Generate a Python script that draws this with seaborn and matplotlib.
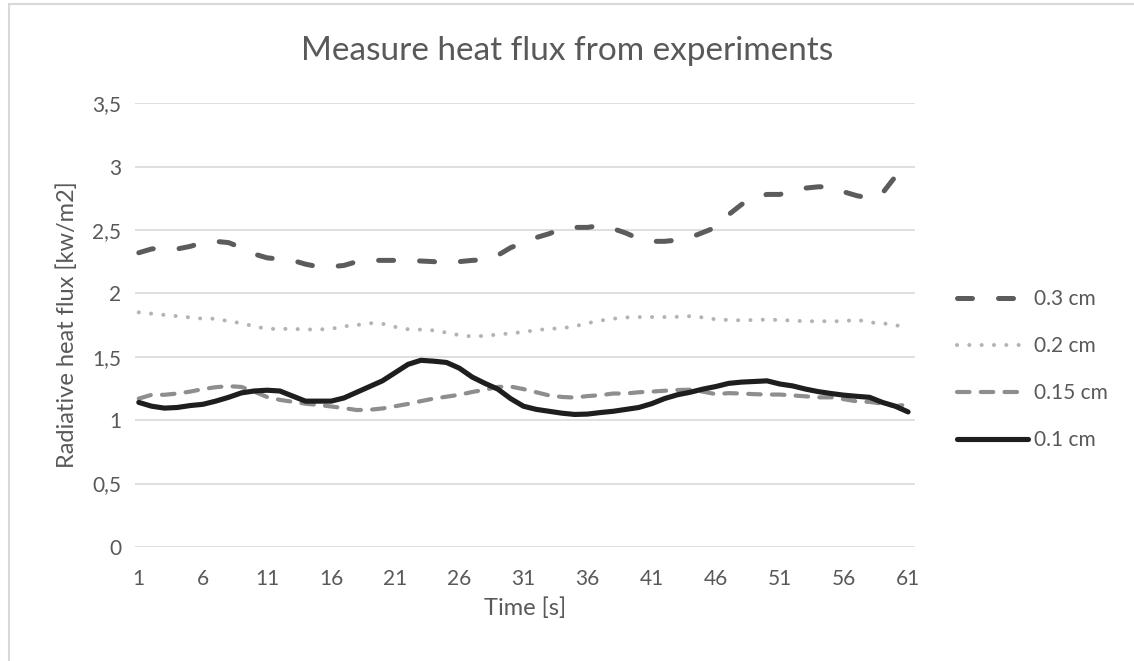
"""
Line chart of measured radiative heat flux for four distances, redrawn with seaborn.
"""

# === Imports ===

import numpy as np
import pandas as pd
import seaborn as sns
from matplotlib import pyplot as plt
from matplotlib.lines import Line2D
from matplotlib.ticker import FuncFormatter, MultipleLocator


# === Data ===

time = list(range(1, 62))

flux_03 = [2.32, 2.35, 2.36, 2.35, 2.37, 2.40, 2.41, 2.40, 2.36, 2.31,
           2.28, 2.27, 2.26, 2.23, 2.21, 2.21, 2.22, 2.25, 2.26, 2.26,
           2.26, 2.26, 2.255, 2.25, 2.24, 2.25, 2.26, 2.265, 2.30, 2.36,
           2.40, 2.44, 2.47, 2.51, 2.52, 2.52, 2.535, 2.51, 2.475, 2.43,
           2.41, 2.41, 2.42, 2.44, 2.48, 2.52, 2.62, 2.70, 2.76, 2.78,
           2.78, 2.81, 2.83, 2.84, 2.84, 2.80, 2.77, 2.75, 2.79, 2.92,
           2.85]

flux_02 = [1.85, 1.84, 1.83, 1.82, 1.81, 1.80, 1.80, 1.78, 1.765, 1.74,
           1.72, 1.72, 1.72, 1.715, 1.715, 1.72, 1.74, 1.75, 1.765, 1.76,
           1.735, 1.717, 1.714, 1.708, 1.69, 1.67, 1.66, 1.665, 1.675, 1.685,
           1.695, 1.71, 1.72, 1.725, 1.74, 1.765, 1.785, 1.80, 1.81, 1.813,
           1.813, 1.813, 1.815, 1.82, 1.81, 1.795, 1.79, 1.787, 1.79, 1.793,
           1.79, 1.785, 1.78, 1.78, 1.78, 1.78, 1.793, 1.77, 1.766, 1.745,
           1.75]

flux_015 = [1.17, 1.20, 1.20, 1.21, 1.225, 1.245, 1.26, 1.268, 1.262, 1.225,
            1.183, 1.16, 1.145, 1.13, 1.12, 1.108, 1.095, 1.08, 1.082, 1.092,
            1.11, 1.128, 1.15, 1.17, 1.185, 1.20, 1.222, 1.24, 1.262, 1.265,
            1.245, 1.22, 1.195, 1.183, 1.178, 1.19, 1.197, 1.21, 1.21, 1.22,
            1.225, 1.232, 1.238, 1.24, 1.225, 1.205, 1.213, 1.21, 1.205, 1.202,
            1.202, 1.195, 1.188, 1.18, 1.18, 1.165, 1.148, 1.144, 1.13, 1.11,
            1.125]

flux_01 = [1.14, 1.11, 1.095, 1.10, 1.115, 1.125, 1.15, 1.18, 1.215, 1.23,
           1.236, 1.23, 1.19, 1.15, 1.15, 1.15, 1.175, 1.22, 1.265, 1.31,
           1.375, 1.44, 1.472, 1.465, 1.455, 1.41, 1.34, 1.29, 1.245, 1.17,
           1.11, 1.085, 1.07, 1.055, 1.045, 1.048, 1.06, 1.07, 1.085, 1.10,
           1.13, 1.17, 1.20, 1.22, 1.245, 1.265, 1.29, 1.30, 1.305, 1.31,
           1.285, 1.27, 1.245, 1.225, 1.21, 1.197, 1.188, 1.18, 1.14, 1.11,
           1.065]

labels = ["0.3 cm", "0.2 cm", "0.15 cm", "0.1 cm"]

# colour, line width (pt), dash pattern (None = solid)
styles = {
    "0.3 cm": ("#5c5c5c", 3.6, (3.0, 5.2)),
    "0.2 cm": ("#b3b3b3", 2.9, (0.01, 3.05)),
    "0.15 cm": ("#8e8e8e", 3.0, (3.0, 2.7)),
    "0.1 cm": ("#1e1e1e", 3.7, None),
}

text_color = "#595959"


# === Plot ===

def build_data():
    series = [flux_03, flux_02, flux_015, flux_01]
    frames = []
    for label, values in zip(labels, series):
        frames.append(pd.DataFrame({"time": time, "flux": values, "size": label}))
    return pd.concat(frames)


def make_plot(data):
    sns.set_style("white")
    plt.rcParams["font.family"] = ["Lato", "DejaVu Sans"]

    fig = plt.figure(figsize=(11.34, 6.61), dpi=100)
    ax = fig.add_axes([0.119, 0.1725, 0.688, 0.6715])

    for label in labels:
        color, lw, dash = styles[label]
        sub = data[data["size"] == label]
        sns.lineplot(data=sub, x="time", y="flux", ax=ax, color=color,
                     linewidth=lw, label=label)
        line = ax.get_lines()[-1]
        if dash is not None:
            line.set_dashes(dash)
        line.set_dash_capstyle("round")
        line.set_solid_capstyle("round")
        line.set_solid_joinstyle("round")

    ax.set_xlim(0.7, 61.55)
    ax.set_ylim(0, 3.5)
    ax.set_xticks(list(range(1, 62, 5)))
    ax.yaxis.set_major_locator(MultipleLocator(0.5))
    ax.yaxis.set_major_formatter(
        FuncFormatter(lambda v, p: ("%g" % v).replace(".", ",")))
    ax.grid(axis="y", color="#d9d9d9", linewidth=1.2)
    ax.grid(axis="x", visible=False)
    for side in ax.spines.values():
        side.set_visible(False)
    ax.tick_params(axis="y", length=0, labelsize=15, colors=text_color, pad=10)
    ax.tick_params(axis="x", length=0, labelsize=15, colors=text_color, pad=16)

    ax.set_xlabel("Time [s]", fontsize=17, color=text_color, labelpad=6)
    ax.set_ylabel("Radiative heat flux [kw/m2]", fontsize=17,
                  color=text_color, labelpad=10)
    fig.suptitle("Measure heat flux from experiments", fontsize=24,
                 color=text_color, x=0.5, y=0.945)

    ax.legend(loc="center left", bbox_to_anchor=(1.03, 0.40),
              frameon=False, fontsize=15, handlelength=3.4,
              handletextpad=0.3, labelspacing=1.3, labelcolor=text_color)

    # thin chart-area border on the left and top
    fig.add_artist(Line2D([0.0075, 0.0075], [0, 0.994], color="#d9d9d9",
                          linewidth=1.5, transform=fig.transFigure))
    fig.add_artist(Line2D([0.0075, 1], [0.994, 0.994], color="#d9d9d9",
                          linewidth=1.5, transform=fig.transFigure))

    fig.savefig("out.png", dpi=100)


def main():
    data = build_data()
    make_plot(data)

main()
